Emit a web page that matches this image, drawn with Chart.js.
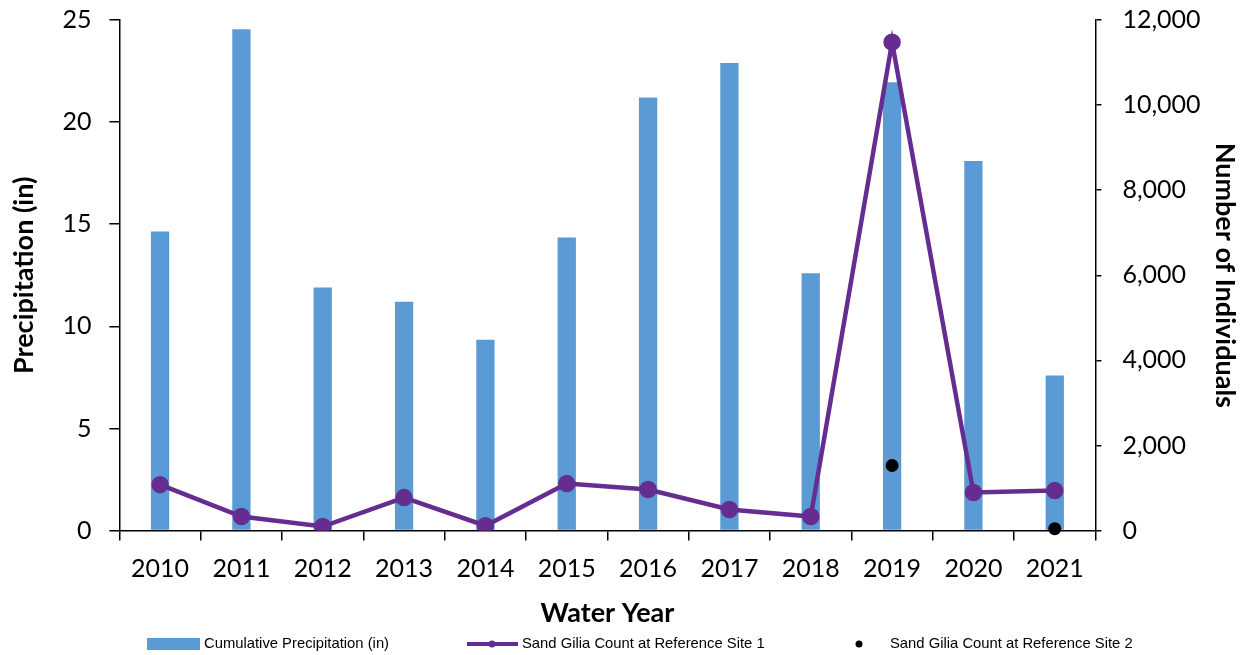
<!DOCTYPE html>
<html>
<head>
<meta charset="utf-8">
<script src="https://cdn.jsdelivr.net/npm/chart.js@4"></script>
<style>
  html, body { margin: 0; padding: 0; background: #fff; }
  #wrap { width: 1244px; height: 655px; }
</style>
</head>
<body>
<div id="wrap"><canvas id="grafica"></canvas></div>
<script>
// Datos
const years = ['2010', '2011', '2012', '2013', '2014', '2015', '2016', '2017', '2018', '2019', '2020', '2021'];
const precipitation = [14.65, 24.55, 11.9, 11.2, 9.35, 14.35, 21.2, 22.9, 12.6, 21.95, 18.1, 7.6];
const countSite1 = [1080, 330, 95, 775, 115, 1105, 965, 495, 330, 11480, 895, 940];
const countSite2 = [null, null, null, null, null, null, null, null, null, 1530, null, 45];
const leftTicks = [0, 5, 10, 15, 20, 25];
const rightTicks = [0, 2000, 4000, 6000, 8000, 10000, 12000];

const blue = '#5B9BD5';
const purple = '#652D90';
const font = 'Lato, "Open Sans", sans-serif';
const legendFont = '"Liberation Sans", sans-serif';

// Leyenda dibujada a mano abajo
const leyenda = {
    id: 'leyenda',
    afterDraw(chart) {
        const ctx = chart.ctx;
        const y = 644;
        ctx.save();
        ctx.font = '14.8px ' + legendFont;
        ctx.textBaseline = 'middle';
        // barras
        ctx.fillStyle = blue;
        ctx.fillRect(147, y - 6, 53, 12);
        ctx.fillStyle = '#000';
        ctx.fillText(chart.data.datasets[0].label, 204, y);
        // linea
        ctx.strokeStyle = purple;
        ctx.lineWidth = 4;
        ctx.beginPath();
        ctx.moveTo(467, y);
        ctx.lineTo(518, y);
        ctx.stroke();
        ctx.fillStyle = purple;
        ctx.beginPath();
        ctx.arc(492, y, 3.5, 0, Math.PI * 2);
        ctx.fill();
        ctx.fillStyle = '#000';
        ctx.fillText(chart.data.datasets[1].label, 522, y);
        // punto
        ctx.beginPath();
        ctx.arc(859, y, 3.5, 0, Math.PI * 2);
        ctx.fill();
        ctx.fillText(chart.data.datasets[2].label, 890, y);
        ctx.restore();
    }
};

new Chart(document.getElementById('grafica'), {
    type: 'bar',
    data: {
        labels: years,
        datasets: [{
            label: 'Cumulative Precipitation (in)',
            data: precipitation,
            backgroundColor: blue,
            yAxisID: 'y',
            barPercentage: 0.9,
            categoryPercentage: 0.25,
            order: 3
        }, {
            type: 'line',
            label: 'Sand Gilia Count at Reference Site 1',
            data: countSite1,
            borderColor: purple,
            backgroundColor: purple,
            borderWidth: 4.5,
            pointRadius: 6.5,
            pointHoverRadius: 6.5,
            tension: 0,
            yAxisID: 'y1',
            order: 2
        }, {
            type: 'line',
            label: 'Sand Gilia Count at Reference Site 2',
            data: countSite2,
            showLine: false,
            borderColor: '#000',
            backgroundColor: '#000',
            pointRadius: 6.5,
            pointBorderWidth: 0,
            yAxisID: 'y1',
            clip: false,
            order: 1
        }]
    },
    options: {
        responsive: true,
        maintainAspectRatio: false,
        animation: false,
        layout: { padding: { top: 0, left: 4, right: 0, bottom: 22 } },
        plugins: {
            legend: { display: false },
            tooltip: { enabled: false }
        },
        scales: {
            x: {
                grid: {
                    offset: true,
                    drawOnChartArea: false,
                    drawTicks: true,
                    tickLength: 10,
                    color: '#000',
                    lineWidth: 1.5
                },
                border: { display: true, color: '#000', width: 1.5 },
                ticks: { color: '#000', font: { family: font, size: 25 }, padding: 13 },
                title: {
                    display: true,
                    text: 'Water Year',
                    color: '#000',
                    font: { family: font, size: 27, weight: 'bold' },
                    padding: { top: 0 }
                }
            },
            y: {
                position: 'left',
                min: 0,
                max: 25,
                afterBuildTicks: (axis) => { axis.ticks = leftTicks.map(v => ({ value: v })); },
                afterFit: (axis) => { axis.paddingTop = 20; },
                grid: { drawOnChartArea: false, tickLength: 10, color: '#000', lineWidth: 1.5 },
                border: { display: true, color: '#000', width: 1.5 },
                ticks: { color: '#000', font: { family: font, size: 25 }, padding: 18 },
                title: {
                    display: true,
                    text: 'Precipitation (in)',
                    color: '#000',
                    font: { family: font, size: 27, weight: 'bold' },
                    padding: { bottom: 4 }
                }
            },
            y1: {
                position: 'right',
                min: 0,
                max: 12000,
                afterBuildTicks: (axis) => { axis.ticks = rightTicks.map(v => ({ value: v })); },
                afterFit: (axis) => { axis.paddingTop = 20; axis.width -= 17; },
                grid: { drawOnChartArea: false, tickLength: 6, color: '#000', lineWidth: 1.5 },
                border: { display: true, color: '#000', width: 1.5 },
                ticks: {
                    color: '#000',
                    font: { family: font, size: 25 },
                    padding: 21,
                    callback: (v) => v.toLocaleString('en-US')
                },
                title: {
                    display: true,
                    text: 'Number of Individuals',
                    color: '#000',
                    font: { family: font, size: 27, weight: 'bold' },
                    padding: { top: 3 }
                }
            }
        }
    },
    plugins: [leyenda]
});
</script>
</body>
</html>
